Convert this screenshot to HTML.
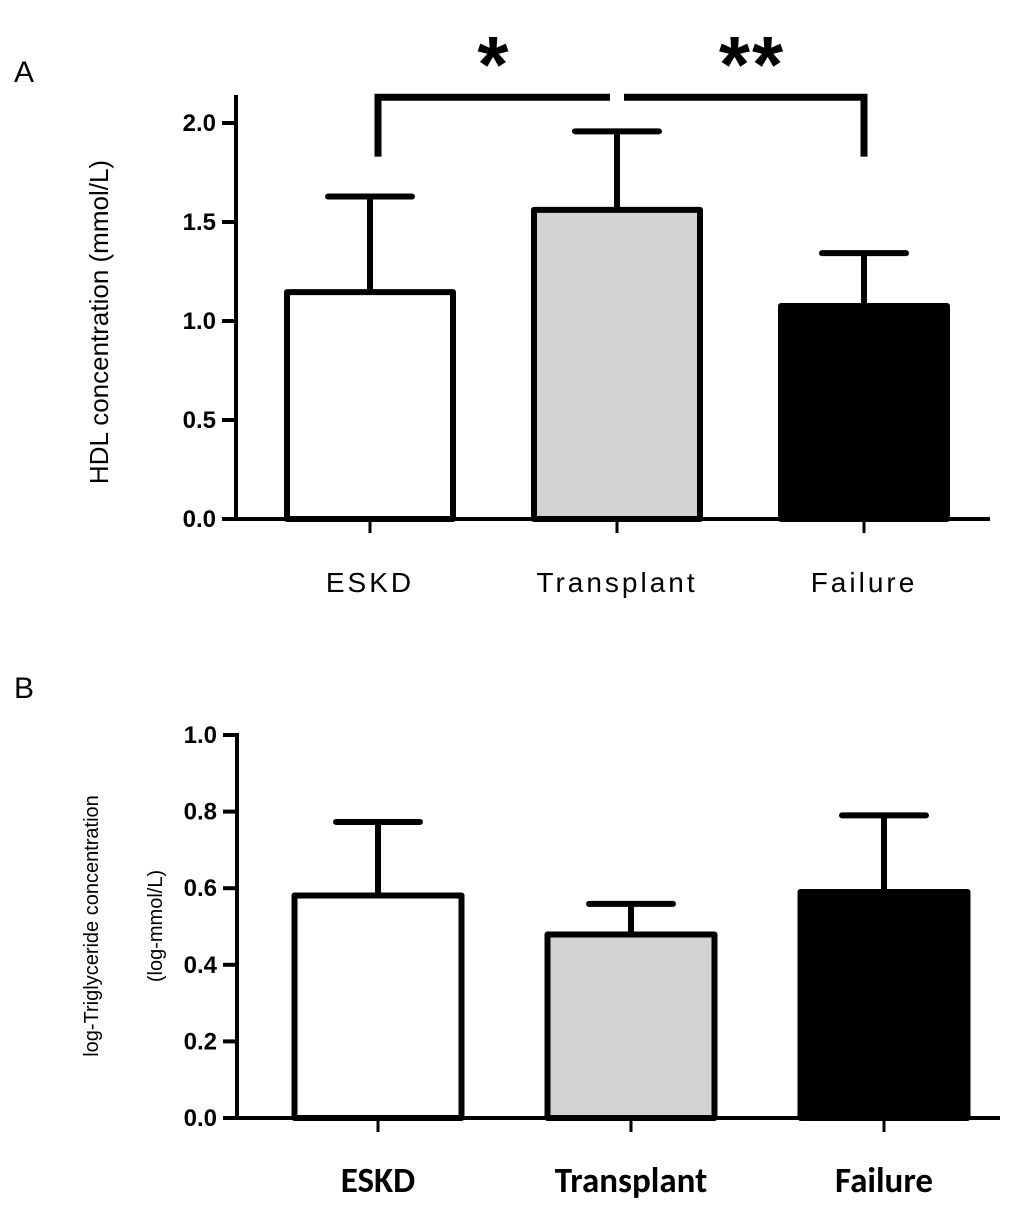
<!DOCTYPE html>
<html><head><meta charset="utf-8"><style>
body{margin:0;background:#fff}
svg{display:block;font-family:"Liberation Sans",Arial,sans-serif}
</style></head><body>
<svg id="chart" width="1024" height="1216" viewBox="0 0 1024 1216">
<text x="14" y="82" font-size="30">A</text>
<text x="14" y="698" font-size="30">B</text>
<g id="pa"></g>
<g id="pb"></g>
</svg>
<script>
const categories=["ESKD","Transplant","Failure"];
const fills=["#ffffff","#d3d3d3","#000000"];
const hdlMeans=[1.146,1.561,1.076];
const hdlErrTop=[1.629,1.958,1.343];
const hdlTicks=["0.0","0.5","1.0","1.5","2.0"];
const tgMeans=[0.581,0.479,0.59];
const tgErrTop=[0.773,0.559,0.79];
const tgTicks=["0.0","0.2","0.4","0.6","0.8","1.0"];
const NS="http://www.w3.org/2000/svg";
function mk(p,t,a){const e=document.createElementNS(NS,t);for(const k in a)e.setAttribute(k,a[k]);p.appendChild(e);return e;}
function panel(g,cfg){
  const y=v=>cfg.y0-(v/cfg.ymax)*(cfg.y0-cfg.yTop);
  const xc=i=>cfg.x0c+i*cfg.step;
  let e=mk(g,'line',{x1:cfg.ax,y1:cfg.axTop,x2:cfg.ax,y2:cfg.y0+2,stroke:'#000','stroke-width':4});
  
  e=mk(g,'line',{x1:cfg.ax-14,y1:cfg.y0,x2:cfg.axRight,y2:cfg.y0,stroke:'#000','stroke-width':4});
  
  cfg.ticks.forEach(t=>{const v=parseFloat(t);
    e=mk(g,'line',{x1:cfg.ax-14,y1:y(v),x2:cfg.ax,y2:y(v),stroke:'#000','stroke-width':4});
    
    e=mk(g,'text',{x:cfg.ax-20,y:y(v)+8,'text-anchor':'end','font-size':24,'font-weight':'bold'});e.textContent=t;
    
  });
  categories.forEach((c,i)=>{
    const cx=xc(i),hw=cfg.bw/2;
    e=mk(g,'line',{x1:cx,y1:y(cfg.means[i]),x2:cx,y2:y(cfg.err[i]),stroke:'#000','stroke-width':6});
    
    e=mk(g,'line',{x1:cx-42,y1:y(cfg.err[i]),x2:cx+42,y2:y(cfg.err[i]),stroke:'#000','stroke-width':6,'stroke-linecap':'round'});
    
    e=mk(g,'rect',{x:cx-hw,y:y(cfg.means[i]),width:cfg.bw,height:cfg.y0-y(cfg.means[i]),fill:fills[i],stroke:'#000','stroke-width':6,'stroke-linejoin':'round'});
    
    e=mk(g,'line',{x1:cx,y1:cfg.y0,x2:cx,y2:cfg.y0+14,stroke:'#000','stroke-width':3});
    
    e=mk(g,'text',{x:cx,y:cfg.labY,'text-anchor':'middle','font-size':cfg.labSize,'font-weight':cfg.labW,'letter-spacing':cfg.ls});e.textContent=c;
    if(cfg.calibri)e.setAttribute('font-family','Carlito,"Liberation Sans",sans-serif');
    
  });
  return {y,xc};
}
const pa=document.getElementById('pa');
const A=panel(pa,{y0:519,yTop:123,ymax:2,ax:236,axTop:95,axRight:990,x0c:370,step:247,bw:166,means:hdlMeans,err:hdlErrTop,ticks:hdlTicks,labY:592,labSize:28,labW:'normal',ls:3});
let t=mk(pa,'text',{x:0,y:0,'font-size':26,transform:'translate(108 322) rotate(-90)','text-anchor':'middle'});t.textContent='HDL concentration (mmol/L)';

const by=A.y(2.13),bd=A.y(1.83);
t=mk(pa,'path',{d:`M${A.xc(0)+8} ${bd} V${by} H${A.xc(1)-7}`,fill:'none',stroke:'#000','stroke-width':7});

t=mk(pa,'path',{d:`M${A.xc(1)+7} ${by} H${A.xc(2)} V${bd}`,fill:'none',stroke:'#000','stroke-width':7});

t=mk(pa,'text',{x:493,y:92,'text-anchor':'middle','font-size':80,'font-weight':'bold'});t.textContent='*';

t=mk(pa,'text',{x:752,y:92,'text-anchor':'middle','font-size':80,'font-weight':'bold','letter-spacing':2});t.textContent='**';

const pb=document.getElementById('pb');
panel(pb,{y0:1118,yTop:735,ymax:1,ax:237,axTop:733,axRight:1000,x0c:378,step:253,bw:167,means:tgMeans,err:tgErrTop,ticks:tgTicks,labY:1192,labSize:35,labW:'bold',ls:0,calibri:true});
t=mk(pb,'text',{x:0,y:0,'font-size':20,transform:'translate(98 926) rotate(-90)','text-anchor':'middle'});t.textContent='log-Triglyceride concentration';

t=mk(pb,'text',{x:0,y:0,'font-size':20,transform:'translate(162 926) rotate(-90)','text-anchor':'middle'});t.textContent='(log-mmol/L)';

</script>
</body></html>
